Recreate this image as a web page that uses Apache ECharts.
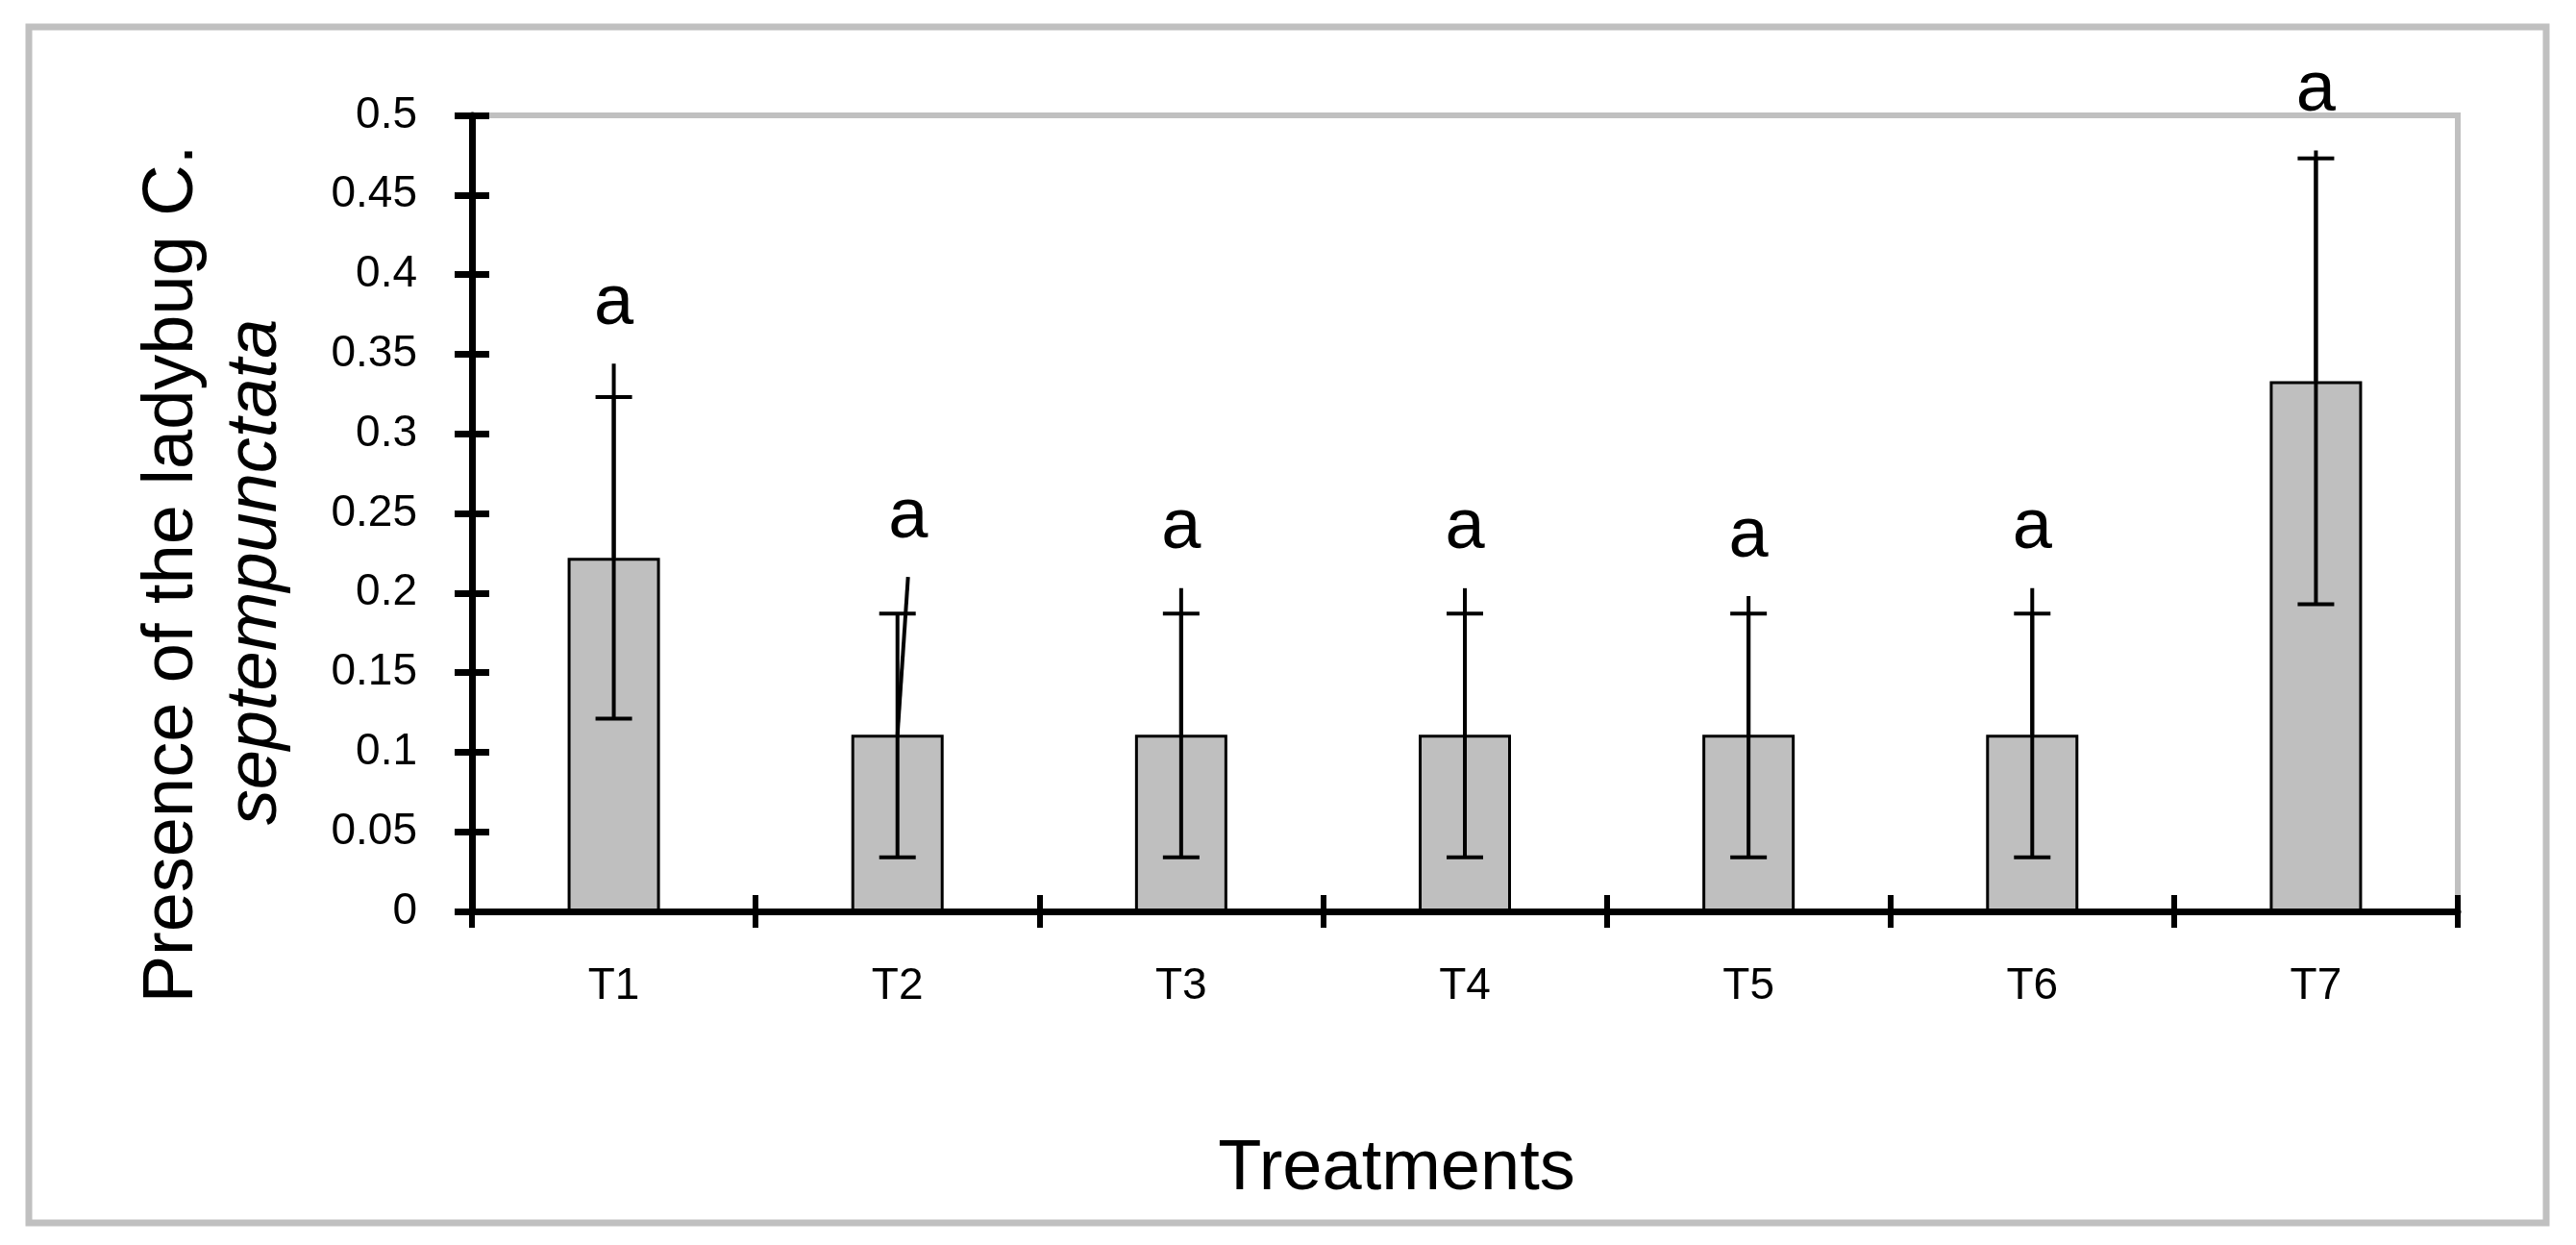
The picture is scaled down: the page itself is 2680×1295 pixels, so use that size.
<!DOCTYPE html>
<html>
<head>
<meta charset="utf-8">
<script src="https://cdn.jsdelivr.net/npm/echarts@6/dist/echarts.min.js"></script>
<style>
html,body{margin:0;padding:0;background:#fff;}
#chart{width:2680px;height:1295px;}
</style>
</head>
<body>
<div id="chart"></div>
<script>
// ---- data ----
const categories = ['T1', 'T2', 'T3', 'T4', 'T5', 'T6', 'T7'];
const means      = [0.222, 0.111, 0.111, 0.111, 0.111, 0.111, 0.333];
const errLower   = [0.121, 0.034, 0.034, 0.034, 0.034, 0.034, 0.193];
const errUpper   = [0.323, 0.187, 0.187, 0.187, 0.187, 0.187, 0.473];
const whiskerTop = [0.344, 0.210, 0.203, 0.203, 0.198, 0.203, 0.478];
const letters    = ['a', 'a', 'a', 'a', 'a', 'a', 'a'];
const yMin = 0, yMax = 0.5, yStep = 0.05;
const yTitleLine1 = 'Presence of the ladybug C.';
const yTitleLine2 = 'septempunctata';
const xTitle = 'Treatments';

const FONT = '"Liberation Sans", Arial, sans-serif';
const chart = echarts.init(document.getElementById('chart'), null, {renderer: 'canvas'});

const errData = categories.map((c, i) => [i, errLower[i], errUpper[i], means[i], whiskerTop[i]]);

const yAxisBase = {
  type: 'value', min: yMin, max: yMax, interval: yStep,
  splitLine: {show: false}
};

const option = {
  backgroundColor: '#ffffff',
  animation: false,
  grid: {
    left: 491, right: 123, top: 120, bottom: 347,
    show: true, borderColor: '#c0c0c0', borderWidth: 6, backgroundColor: 'transparent'
  },
  xAxis: [
    {
      type: 'category', data: categories, position: 'bottom', boundaryGap: true,
      axisLine: {show: true, lineStyle: {color: '#000', width: 7}},
      axisTick: {show: true, inside: false, length: 17, alignWithLabel: false, lineStyle: {color: '#000', width: 6}},
      axisLabel: {show: true, color: '#000', fontSize: 46, fontFamily: FONT, margin: 55}
    },
    {
      type: 'category', data: categories, position: 'bottom', boundaryGap: true,
      axisLine: {show: false},
      axisTick: {show: true, inside: true, length: 17, alignWithLabel: false, lineStyle: {color: '#000', width: 6}},
      axisLabel: {show: false}
    }
  ],
  yAxis: [
    Object.assign({}, yAxisBase, {
      position: 'left',
      axisLine: {show: true, lineStyle: {color: '#000', width: 7}},
      axisTick: {show: true, inside: false, length: 18, lineStyle: {color: '#000', width: 7}},
      axisLabel: {
        show: true, color: '#000', fontSize: 46, fontFamily: FONT, margin: 57,
        formatter: v => String(+v.toFixed(2))
      }
    }),
    Object.assign({}, yAxisBase, {
      position: 'left',
      axisLine: {show: false},
      axisTick: {show: true, inside: true, length: 18, lineStyle: {color: '#000', width: 7}},
      axisLabel: {show: false}
    })
  ],
  graphic: [
    {
      type: 'rect', z: -1, silent: true,
      shape: {x: 30, y: 28, width: 2619, height: 1244},
      style: {fill: 'none', stroke: '#c0c0c0', lineWidth: 7}
    },
    {
      type: 'text', x: 180, y: 597, rotation: Math.PI / 2,
      style: {text: yTitleLine1, font: '74px ' + FONT, fill: '#000', textAlign: 'center', textVerticalAlign: 'middle'}
    },
    {
      type: 'text', x: 266, y: 595, rotation: Math.PI / 2,
      style: {text: yTitleLine2, font: 'italic 74px ' + FONT, fill: '#000', textAlign: 'center', textVerticalAlign: 'middle'}
    },
    {
      type: 'text', x: 1453, y: 1217,
      style: {text: xTitle, font: '74px ' + FONT, fill: '#000', textAlign: 'center', textVerticalAlign: 'middle'}
    }
  ],
  series: [
    {
      type: 'bar', data: means, xAxisIndex: 0, yAxisIndex: 0,
      barWidth: 96,
      itemStyle: {color: '#bfbfbf', borderColor: '#000', borderWidth: 3}
    },
    {
      type: 'custom', xAxisIndex: 0, yAxisIndex: 0, clip: false, z: 10,
      data: errData,
      renderItem: function (params, api) {
        const i = api.value(0);
        const lo = api.coord([i, api.value(1)]);
        const hi = api.coord([i, api.value(2)]);
        const mid = api.coord([i, api.value(3)]);
        const top = api.coord([i, api.value(4)]);
        const slant = (i === 1) ? 11 : 0;
        const cap = 19;
        const ls = {stroke: '#000', lineWidth: 4};
        return {
          type: 'group',
          children: [
            {type: 'line', shape: {x1: lo[0], y1: lo[1], x2: hi[0], y2: hi[1]}, style: ls},
            {type: 'line', shape: {x1: lo[0] - cap, y1: lo[1], x2: lo[0] + cap, y2: lo[1]}, style: ls},
            {type: 'line', shape: {x1: hi[0] - cap, y1: hi[1], x2: hi[0] + cap, y2: hi[1]}, style: ls},
            {type: 'line', shape: {x1: mid[0], y1: mid[1], x2: top[0] + slant, y2: top[1]}, style: ls},
            {type: 'text', style: {
              text: letters[i], x: top[0] + slant, y: top[1] - 25,
              font: '74px ' + FONT, fill: '#000', textAlign: 'center', textVerticalAlign: 'bottom'
            }}
          ]
        };
      }
    }
  ]
};
chart.setOption(option);
</script>
</body>
</html>
